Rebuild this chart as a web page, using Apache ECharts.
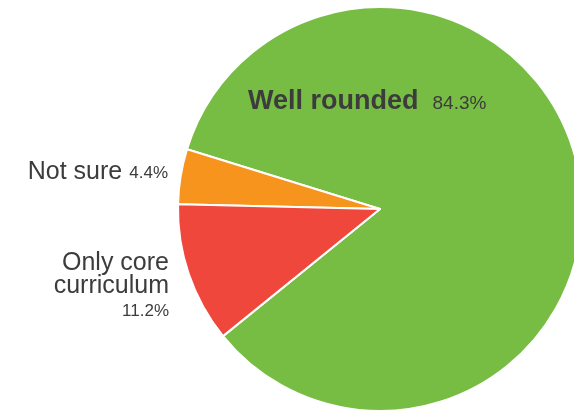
<!DOCTYPE html>
<html>
<head>
<meta charset="utf-8">
<style>
  html, body { margin: 0; padding: 0; background: #ffffff; }
  #chart { width: 574px; height: 411px; }
</style>
<script src="https://cdn.jsdelivr.net/npm/echarts@6/dist/echarts.min.js"></script>
</head>
<body>
<div id="chart"></div>
<script>
// Survey answers, share of respondents in percent
const categories = ['Well rounded', 'Not sure', 'Only core curriculum'];
const shares = [84.3, 4.4, 11.2];
const sliceColors = ['#77bc43', '#f7941e', '#ef473b'];

const FONT = '"Liberation Sans", Arial, sans-serif';
const TEXT = '#3c3c3c';

// Long names are wrapped onto two lines
function wrapName(name) {
  return name.length > 14 ? name.replace(/ (\S+)$/, '\n$1') : name;
}

// Where each label sits (anchor point, alignment)
const labelSpots = [
  { x: 248, y: 102, align: 'left', verticalAlign: 'middle' },
  { x: 168, y: 172, align: 'right', verticalAlign: 'middle' },
  { x: 169, y: 252, align: 'right', verticalAlign: 'top' }
];

const chart = echarts.init(document.getElementById('chart'), null, { renderer: 'canvas' });

chart.setOption({
  animation: false,
  backgroundColor: '#ffffff',
  series: [{
    type: 'pie',
    center: [380, 209],
    radius: 202,
    startAngle: 219,
    clockwise: false,
    avoidLabelOverlap: false,
    itemStyle: { borderColor: '#ffffff', borderWidth: 2 },
    labelLine: { show: false },
    emphasis: { disabled: true },
    label: {
      show: true,
      color: TEXT,
      fontFamily: FONT,
      formatter: function (p) {
        const name = wrapName(p.name);
        if (p.dataIndex === 0) {
          return '{big|' + name + '}{bigPct|' + p.value + '%}';
        }
        const lines = name.split('\n');
        if (lines.length > 1) {
          return lines.map(function (l) { return '{line|' + l + '}'; }).join('\n') + '\n{pct|' + p.value + '%}';
        }
        return '{name|' + name + '}{pct|' + p.value + '%}';
      },
      rich: {
        big: { fontFamily: FONT, fontSize: 27, fontWeight: 'bold', color: TEXT, padding: [0, 14, 0, 0] },
        bigPct: { fontFamily: FONT, fontSize: 19, color: TEXT, padding: [3, 0, 0, 0] },
        name: { fontFamily: FONT, fontSize: 25, color: TEXT, lineHeight: 23, align: 'right', padding: [0, 7, 0, 0] },
        line: { fontFamily: FONT, fontSize: 25, color: TEXT, lineHeight: 23, align: 'right' },
        pct: { fontFamily: FONT, fontSize: 17, color: TEXT, lineHeight: 23, align: 'right', padding: [3, 0, 0, 0] }
      }
    },
    labelLayout: function (params) {
      return labelSpots[params.dataIndex];
    },
    data: categories.map(function (name, i) {
      return { name: name, value: shares[i], itemStyle: { color: sliceColors[i] } };
    })
  }]
});
</script>
</body>
</html>
